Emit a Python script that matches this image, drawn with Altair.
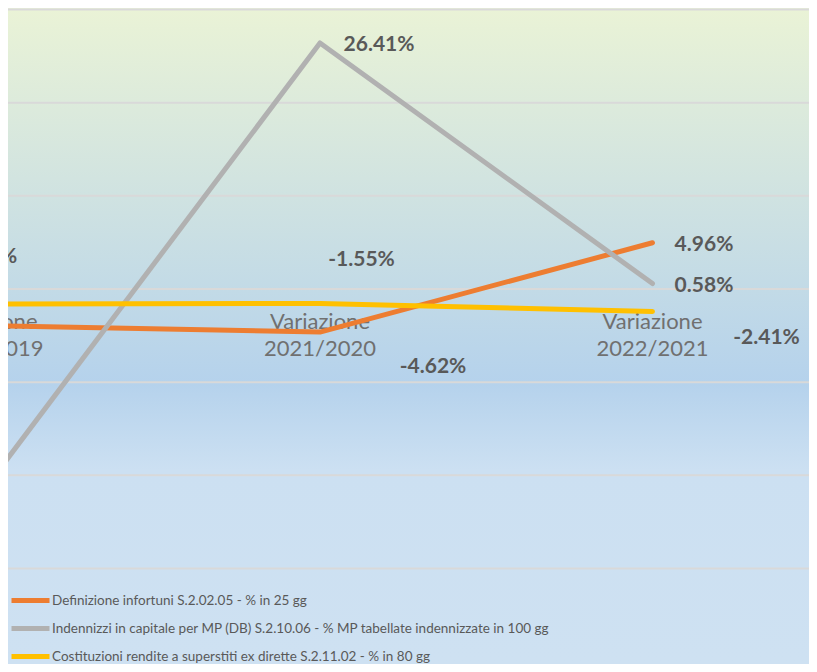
import altair as alt
import pandas as pd

# ---------------- data ----------------
CATEGORIES = ["Variazione 2020/2019", "Variazione 2021/2020", "Variazione 2022/2021"]
SERIES = [
    "Definizione infortuni S.2.02.05 - % in 25 gg",
    "Indennizzi in capitale  per MP  (DB) S.2.10.06 - %  MP tabellate indennizzate in 100 gg",
    "Costituzioni rendite a superstiti ex dirette S.2.11.02 - % in 80 gg",
]
DEFINIZIONE = [-3.93, -4.62, 4.96]
INDENNIZZI = [-21.07, 26.41, 0.58]
COSTITUZIONI = [-1.62, -1.55, -2.41]
GRID_VALUES = [-30, -20, -10, 0, 10, 20, 30]

# ---------------- styling ----------------
COLORS = ["#ED7D31", "#B1B1B1", "#FFC000"]
W, H = 801, 656
FONT = "Lato"
LEGEND_FONT = "Lato"

# label offsets (dx, dy) in pixels, per (series index, category index)
LABEL_OFFSETS = {
    (0, 0): (-80, 0), (0, 1): (113, 35), (0, 2): (51.5, 2),
    (1, 0): (-80, 0), (1, 1): (59, 2), (1, 2): (51.5, 2),
    (2, 0): (-3.5, -47), (2, 1): (41.5, -43), (2, 2): (114, 26.5),
}

rows = []
for si, (s, vals) in enumerate(zip(SERIES, [DEFINIZIONE, INDENNIZZI, COSTITUZIONI])):
    for i, (c, v) in enumerate(zip(CATEGORIES, vals)):
        rows.append({"series": s, "si": si, "cat": c, "idx": i, "value": v})
df = pd.DataFrame(rows)
cat_df = pd.DataFrame({"cat": CATEGORIES, "idx": list(range(len(CATEGORIES)))})
grid_df = pd.DataFrame({"g": GRID_VALUES})

xscale = alt.Scale(domain=[0.0617, 2.4707], nice=False, zero=False)
yscale = alt.Scale(domain=[-40.25, 30.16], nice=False, zero=False)

bg = alt.Chart(pd.DataFrame({"bg": [0]})).mark_rect(
    color=alt.LinearGradient(
        gradient="linear", x1=0, x2=0, y1=0, y2=1,
        stops=[
            alt.GradientStop(color="#EAF3D6", offset=0),
            alt.GradientStop(color="#B5D2EC", offset=0.572),
            alt.GradientStop(color="#CCE0F2", offset=0.704),
            alt.GradientStop(color="#CEE1F2", offset=1),
        ],
    )
).encode(x=alt.value(0), x2=alt.value(W), y=alt.value(0), y2=alt.value(H))

grid = alt.Chart(grid_df).mark_rule(color="#D9D9D9", strokeWidth=2).encode(
    y=alt.Y("g:Q", scale=yscale, axis=None)
)

cats = alt.Chart(cat_df).mark_text(
    font=FONT, fontSize=22, color="#707070", lineBreak=" ", lineHeight=27,
    align="center", baseline="middle", dy=33, clip=True,
).encode(
    x=alt.X("idx:Q", scale=xscale, axis=None),
    y=alt.YDatum(0, scale=yscale, axis=None),
    text="cat:N",
)

lines = alt.Chart(df).mark_line(strokeWidth=5, strokeCap="round", strokeJoin="round", clip=True).encode(
    x=alt.X("idx:Q", scale=xscale, axis=None),
    y=alt.Y("value:Q", scale=yscale, axis=None),
    color=alt.Color(
        "series:N",
        scale=alt.Scale(domain=SERIES, range=COLORS),
        legend=alt.Legend(
            orient="none", legendX=10.5, legendY=580.5, title=None,
            symbolType="M-2,0L2,0", symbolSize=361, symbolStrokeWidth=5,
            labelFont=LEGEND_FONT, labelFontSize=13.5, labelColor="#595959",
            rowPadding=6, labelOffset=9.5, padding=0, labelLimit=0,
        ),
    ),
    detail="series:N",
)

labels = []
for (si, ci), (dx, dy) in LABEL_OFFSETS.items():
    labels.append(
        alt.Chart(df).transform_filter(
            (alt.datum.si == si) & (alt.datum.idx == ci)
        ).transform_calculate(
            lab="(datum.value < 0 ? '-' : '') + format(abs(datum.value), '.2f') + '%'"
        ).mark_text(
            font=FONT, fontSize=21, fontWeight="bold", color="#595959",
            align="center", baseline="middle", dx=dx, dy=dy, clip=True,
        ).encode(
            x=alt.X("idx:Q", scale=xscale, axis=None),
            y=alt.Y("value:Q", scale=yscale, axis=None),
            text="lab:N",
        )
    )

chart = alt.layer(bg, grid, cats, lines, *labels).properties(
    width=W, height=H, padding=0,
    autosize=alt.AutoSizeParams(type="none"),
).configure_view(stroke=None)

chart.save("out.html", embed_options={"renderer": "svg", "actions": False})
